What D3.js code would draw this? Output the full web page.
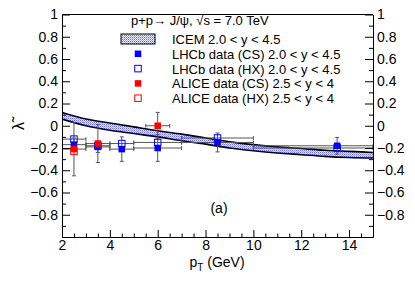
<!DOCTYPE html>
<html>
<head>
<meta charset="utf-8">
<script src="https://cdn.jsdelivr.net/npm/d3@7"></script>
<style>
  body { margin: 0; background: #fff; }
  svg { font-family: "Liberation Sans", Arial, sans-serif; }
</style>
</head>
<body>
<svg id="chart" width="415" height="282"></svg>
<script>
// ICEM band (upper / lower edge)
const bandPt = [2, 3, 4, 5, 6, 7, 8, 9, 10, 11, 12, 13, 14, 15];
const bandHi = [0.12, 0.06, 0.025, -0.01, -0.045, -0.075, -0.11, -0.145, -0.17, -0.19, -0.205, -0.22, -0.23, -0.24];
const bandLo = [0.06, 0.0, -0.04, -0.07, -0.10, -0.135, -0.165, -0.2, -0.225, -0.245, -0.26, -0.275, -0.285, -0.29];

// LHCb, pT bins
const lhcbPt = [2.5, 3.5, 4.5, 6, 8.5, 13.5];
const lhcbPtLo = [2, 3, 4, 5, 7, 10];
const lhcbPtHi = [3, 4, 5, 7, 10, 15];
const lhcbCS = [-0.17, -0.19, -0.21, -0.2, -0.15, -0.18];
const lhcbHX = [-0.12, -0.18, -0.16, -0.15, -0.11, -0.2];
const lhcbErr = [0.06, 0.05, 0.11, 0.12, 0.085, 0.075];

// ALICE
const alicePt = [2.5, 3.5, 6];
const alicePtLo = [2, 3, 5.5];
const alicePtHi = [3, 4, 6.5];
const aliceCS = [-0.21, -0.16, 0.0];
const aliceErr = [0.24, 0.17, 0.12];
const aliceHXPt = [2.5];
const aliceHX = [-0.23];

const xTicks = [2, 4, 6, 8, 10, 12, 14];
const yTicks = [1, 0.8, 0.6, 0.4, 0.2, 0, -0.2, -0.4, -0.6, -0.8];

const svg = d3.select('#chart');
const pLeft = 62, pRight = 373, pTop = 14.5, pBottom = 237;

const x = d3.scaleLinear().domain([2, 15]).range([pLeft, pRight]);
const y = d3.scaleLinear().domain([-1, 1]).range([pBottom, pTop]);

const fmt = d => d === 0 ? '0' : d3.format('')(d).replace('-', '\u2212');

// dotted fill for the band
const defs = svg.append('defs');
const pat = defs.append('pattern')
  .attr('id', 'dots')
  .attr('width', 2).attr('height', 2)
  .attr('patternUnits', 'userSpaceOnUse');
pat.append('rect').attr('width', 2).attr('height', 2).attr('fill', '#e8e8ff');
pat.append('rect').attr('width', 1).attr('height', 1).attr('fill', '#6c6cf8');
pat.append('rect').attr('x', 1).attr('y', 1).attr('width', 1).attr('height', 1).attr('fill', '#a8a8fc');

defs.append('clipPath').attr('id', 'plotclip')
  .append('rect').attr('x', pLeft).attr('y', pTop)
  .attr('width', pRight - pLeft).attr('height', pBottom - pTop);

// band
const plot = svg.append('g').attr('clip-path', 'url(#plotclip)');
const band = bandPt.map((p, i) => ({ p, hi: bandHi[i], lo: bandLo[i] }));
plot.append('path')
  .datum(band)
  .attr('fill', 'url(#dots)')
  .attr('d', d3.area().x(d => x(d.p)).y0(d => y(d.lo)).y1(d => y(d.hi)).curve(d3.curveMonotoneX));
['hi', 'lo'].forEach(k => {
  plot.append('path')
    .datum(band)
    .attr('fill', 'none')
    .attr('stroke', '#000')
    .attr('stroke-width', 1.6)
    .attr('d', d3.line().x(d => x(d.p)).y(d => y(d[k])).curve(d3.curveMonotoneX));
});

// error bars
const errColor = '#555';
function errors(pts, vals, lo, hi, err) {
  const g = plot.append('g').attr('stroke', errColor).attr('stroke-width', 1);
  pts.forEach((p, i) => {
    const cy = y(vals[i]);
    g.append('line').attr('x1', x(lo[i])).attr('x2', x(hi[i])).attr('y1', cy).attr('y2', cy);
    g.append('line').attr('x1', x(lo[i])).attr('x2', x(lo[i])).attr('y1', cy - 2).attr('y2', cy + 2);
    g.append('line').attr('x1', x(hi[i])).attr('x2', x(hi[i])).attr('y1', cy - 2).attr('y2', cy + 2);
    if (err) {
      const y1 = y(vals[i] + err[i]), y2 = y(vals[i] - err[i]);
      g.append('line').attr('x1', x(p)).attr('x2', x(p)).attr('y1', y1).attr('y2', y2);
      g.append('line').attr('x1', x(p) - 2).attr('x2', x(p) + 2).attr('y1', y1).attr('y2', y1);
      g.append('line').attr('x1', x(p) - 2).attr('x2', x(p) + 2).attr('y1', y2).attr('y2', y2);
    }
  });
}
errors(lhcbPt, lhcbHX, lhcbPtLo, lhcbPtHi, null);
errors(lhcbPt, lhcbCS, lhcbPtLo, lhcbPtHi, lhcbErr);
errors(alicePt, aliceCS, alicePtLo, alicePtHi, aliceErr);

// markers
const ms = 6.5;
function markers(pts, vals, color, filled) {
  plot.append('g').selectAll('rect')
    .data(pts.map((p, i) => [p, vals[i]]))
    .join('rect')
    .attr('x', d => x(d[0]) - ms / 2)
    .attr('y', d => y(d[1]) - ms / 2)
    .attr('width', ms).attr('height', ms)
    .attr('fill', filled ? color : 'none')
    .attr('stroke', color)
    .attr('stroke-width', filled ? 0 : 1);
}
markers(lhcbPt, lhcbHX, '#0000ff', false);
markers(lhcbPt, lhcbCS, '#0000ff', true);
markers(alicePt, aliceCS, '#ff0000', true);
markers(aliceHXPt, aliceHX, '#ff0000', false);

// axes
const fontSize = '14px';
function styleAxis(g) {
  g.select('.domain').attr('stroke', '#000');
  g.selectAll('.tick line').attr('stroke', '#000');
  g.selectAll('text').style('font-size', fontSize).attr('fill', '#000');
}
const yMinor = d3.range(-0.9, 1.0, 0.2);
const xMinor = d3.range(2.5, 15, 0.5).filter(v => v % 2 !== 0);

svg.append('g').attr('transform', `translate(${pLeft},0)`)
  .call(d3.axisLeft(y).tickValues(yTicks).tickFormat(fmt).tickSizeInner(-8).tickSizeOuter(0).tickPadding(4))
  .call(styleAxis);
svg.append('g').attr('transform', `translate(${pLeft},0)`)
  .call(d3.axisLeft(y).tickValues(yMinor).tickFormat('').tickSizeInner(-4).tickSizeOuter(0))
  .call(styleAxis);
svg.append('g').attr('transform', `translate(${pRight},0)`)
  .call(d3.axisRight(y).tickValues(yTicks).tickFormat(fmt).tickSizeInner(-8).tickSizeOuter(0).tickPadding(4))
  .call(styleAxis);
svg.append('g').attr('transform', `translate(${pRight},0)`)
  .call(d3.axisRight(y).tickValues(yMinor).tickFormat('').tickSizeInner(-4).tickSizeOuter(0))
  .call(styleAxis);
svg.append('g').attr('transform', `translate(0,${pBottom})`)
  .call(d3.axisBottom(x).tickValues(xTicks).tickFormat(d3.format('d')).tickSizeInner(-7).tickSizeOuter(0).tickPadding(3))
  .call(styleAxis);
svg.append('g').attr('transform', `translate(0,${pBottom})`)
  .call(d3.axisBottom(x).tickValues(xMinor).tickFormat('').tickSizeInner(-3.5).tickSizeOuter(0))
  .call(styleAxis);
svg.append('line')
  .attr('x1', pLeft).attr('x2', pRight).attr('y1', pTop).attr('y2', pTop)
  .attr('stroke', '#000');

// axis titles
const xt = svg.append('text')
  .attr('x', 217).attr('y', 267)
  .attr('text-anchor', 'middle')
  .style('font-size', '14px');
xt.append('tspan').text('p');
xt.append('tspan').attr('dy', 4).style('font-size', '10px').text('T');
xt.append('tspan').attr('dy', -4).text(' (GeV)');

svg.append('text')
  .attr('transform', 'translate(24,126) rotate(-90)')
  .attr('text-anchor', 'middle')
  .style('font-size', '16px')
  .text('\u03bb\u0303');

svg.append('text')
  .attr('x', 219).attr('y', 213)
  .attr('text-anchor', 'middle')
  .style('font-size', '14px')
  .text('(a)');

// legend
const legend = svg.append('g').attr('class', 'legend');
legend.append('text')
  .attr('x', 131).attr('y', 25)
  .style('font-size', '13px')
  .text('p+p\u2192 J/\u03c8, \u221as = 7.0 TeV');

const items = [
  { label: 'ICEM 2.0 < y < 4.5', kind: 'band' },
  { label: 'LHCb data (CS) 2.0 < y < 4.5', kind: 'mark', color: '#0000ff', filled: true },
  { label: 'LHCb data (HX) 2.0 < y < 4.5', kind: 'mark', color: '#0000ff', filled: false },
  { label: 'ALICE data (CS) 2.5 < y < 4', kind: 'mark', color: '#ff0000', filled: true },
  { label: 'ALICE data (HX) 2.5 < y < 4', kind: 'mark', color: '#ff0000', filled: false }
];
legend.selectAll('g.legend-item')
  .data(items)
  .join('g')
  .attr('class', 'legend-item')
  .attr('transform', (d, i) => `translate(0,${39 + i * 14.8})`)
  .each(function(d) {
    const item = d3.select(this);
    if (d.kind === 'band') {
      item.append('rect')
        .attr('x', 121).attr('y', -5).attr('width', 34).attr('height', 10)
        .attr('fill', 'url(#dots)').attr('stroke', '#000').attr('stroke-width', 1);
    } else {
      item.append('rect')
        .attr('x', 138 - ms / 2).attr('y', -ms / 2).attr('width', ms).attr('height', ms)
        .attr('fill', d.filled ? d.color : 'none')
        .attr('stroke', d.color).attr('stroke-width', d.filled ? 0 : 1);
    }
    item.append('text')
      .attr('x', 172).attr('y', 5)
      .style('font-size', '13px')
      .text(d.label);
  });
</script>
</body>
</html>
